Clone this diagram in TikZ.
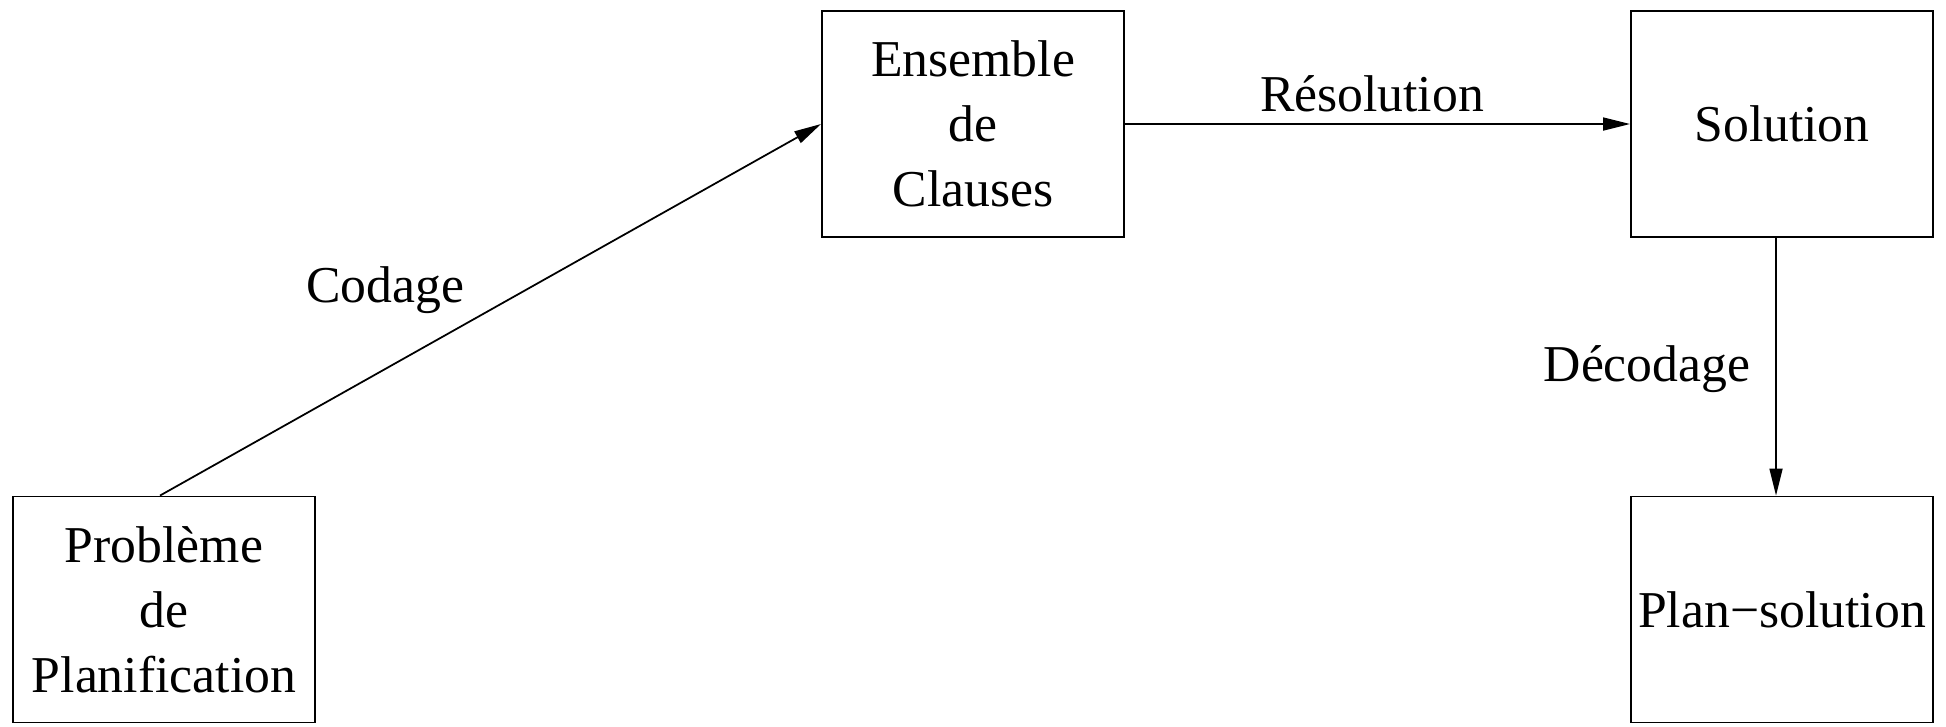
\documentclass[tikz,border=0pt]{standalone}
\usepackage{fontspec}
\setmainfont{Liberation Serif}
\usepackage{tikz}
\usetikzlibrary{positioning,arrows.meta}

\tikzset{
    etape/.style={draw, line width=0.5pt, minimum width=3.02cm, minimum height=2.26cm,
        inner sep=0.5pt, align=center, font=\fontsize{14.7}{18.5}\selectfont},
    fleche/.style={-{Stealth[length=2.7mm, width=1.3mm, inset=0pt]}, line width=0.5pt},
    etiquette/.style={font=\fontsize{14.7}{18.5}\selectfont}
}

\begin{document}
\begin{tikzpicture}[x=0.01cm, y=-0.01cm]
    \useasboundingbox (0,0) rectangle (1946,726);

    \node[etape] (probleme) at (164,609.5) {Problème\\de\\Planification};
    \node[etape] (clauses) at (973,124) {Ensemble\\de\\Clauses};
    \node[etape] (solution) at (1782,124) {Solution};
    \node[etape] (plan) at (1782,609.5) {Plan−solution};

    \draw[fleche] ([xshift=-0.04cm]probleme.north) -- (clauses.west);
    \draw[fleche] (clauses.east) -- (solution.west);
    \draw[fleche] ([xshift=-0.06cm]solution.south) -- ([xshift=-0.06cm]plan.north);

    \node[etiquette] (codage) at (385,290) {Codage};
    \node[etiquette] (resolution) at (1372,94) {Résolution};
    \node[etiquette] (decodage) at (1647,369) {Décodage};
\end{tikzpicture}
\end{document}
